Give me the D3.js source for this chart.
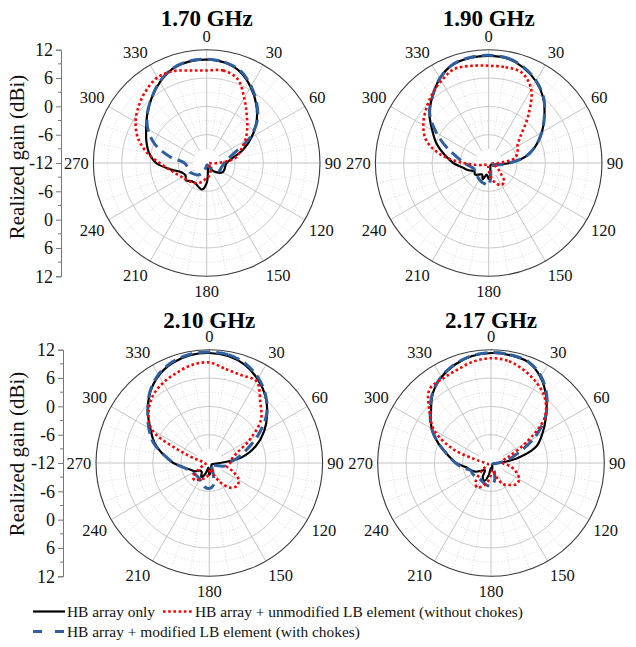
<!DOCTYPE html>
<html><head><meta charset="utf-8">
<script src="https://cdn.jsdelivr.net/npm/d3@7"></script>
<style>
body{margin:0;background:#fff}
svg{display:block}
svg text{font-family:"Liberation Serif","Tinos","Times New Roman","DejaVu Serif",serif !important;fill:#111}
</style>
</head><body>
<svg id="chart" width="636" height="647"></svg>
<script>
// ---------- data ----------
const angles = [0,10,20,30,40,50,60,70,80,90,100,110,120,130,140,150,160,170,180,190,200,210,220,230,240,250,260,270,280,290,300,310,320,330,340,350];
const frequencies = ["1.70 GHz","1.90 GHz","2.10 GHz","2.17 GHz"];
const seriesNames = ["HB array only","HB array + unmodified LB element (without chokes)","HB array + modified LB element (with chokes)"];
const angleTickLabels = [0,30,60,90,120,150,180,210,240,270,300,330];
const radialTickLabels = [12,6,0,-6,-12,-6,0,6,12];
const radialAxisTitle = "Realized gain (dBi)";

// 1.70 GHz
const hbOnly170 = [9.9,9.6,8.6,6.6,4.3,1.8,-1.0,-3.8,-6.6,-7.8,-8.0,-8.0,-8.1,-8.8,-9.7,-10.8,-11.4,-10.5,-7.8,-6.3,-6.7,-7.1,-7.0,-6.3,-6.8,-6.3,-4.2,-1.3,0.4,1.6,2.8,4.4,6.1,7.8,9.2,9.8];
const unmodLB170 = [7.6,7.9,7.0,3.9,1.2,-0.8,-2.6,-4.4,-5.8,-9.5,-11.5,-11.6,-11.6,-11.4,-11.0,-10.4,-9.8,-9.2,-8.8,-8.2,-7.5,-7.1,-6.8,-6.4,-6.0,-5.2,-4.0,-2.0,0.9,3.5,5.4,6.8,8.0,8.9,8.7,7.9];
const modLB170 = [10.0,9.7,8.8,6.8,4.5,2.0,-1.5,-5.8,-7.5,-8.3,-8.6,-8.8,-8.8,-9.5,-10.5,-11.2,-11.5,-11.6,-11.5,-11.0,-10.0,-9.2,-8.7,-8.4,-8.0,-7.9,-7.8,-7.3,-4.0,-0.3,2.4,4.4,6.1,7.9,9.3,9.9];
// 1.90 GHz
const hbOnly190 = [10.7,10.5,9.5,8.0,6.0,3.4,1.0,-1.4,-4.0,-7.6,-10.3,-11.0,-11.3,-11.4,-11.4,-11.3,-11.0,-10.0,-8.6,-9.5,-8.3,-9.2,-8.8,-8.2,-8.5,-7.5,-6.4,-4.5,-2.6,-0.3,1.8,4.4,6.5,8.7,10.2,10.6];
const unmodLB190 = [8.6,8.6,8.4,6.0,1.0,-3.2,-5.0,-5.5,-6.5,-10.0,-11.3,-10.8,-9.8,-8.8,-6.9,-6.6,-7.4,-8.8,-10.5,-11.4,-11.6,-11.6,-11.6,-11.5,-11.3,-10.8,-9.5,-6.6,-1.6,2.1,4.0,5.4,6.8,8.1,9.2,8.9];
const modLB190 = [10.8,10.6,9.6,8.1,6.1,3.4,1.0,-1.4,-4.0,-7.6,-9.8,-10.5,-11.0,-11.2,-11.3,-11.2,-10.8,-9.5,-7.3,-7.5,-7.7,-8.0,-8.3,-8.6,-8.7,-8.6,-8.0,-6.8,-5.3,-2.6,0.8,4.3,6.5,8.7,10.2,10.7];
// 2.10 GHz
const hbOnly210 = [11.3,11.0,10.1,8.5,6.5,4.0,1.4,-1.5,-5.0,-9.7,-11.0,-11.3,-11.4,-11.4,-11.3,-11.2,-10.8,-10.2,-9.5,-11.0,-9.5,-8.6,-9.5,-9.5,-8.5,-7.8,-6.5,-4.4,-2.2,0.3,2.4,5.0,7.5,9.4,10.6,11.2];
const unmodLB210 = [9.3,8.2,7.8,8.0,4.8,2.3,-2.1,-5.8,-7.2,-7.6,-8.2,-6.6,-4.8,-4.4,-5.2,-7.2,-9.5,-10.8,-10.0,-9.0,-8.5,-8.0,-7.2,-7.5,-9.5,-10.8,-11.2,-11.0,-10.5,-7.0,2.0,4.8,6.6,7.6,8.3,9.1];
const modLB210 = [11.5,11.3,10.4,8.8,6.6,3.8,0.0,-3.5,-6.0,-7.8,-8.5,-10.5,-11.5,-11.6,-11.5,-11.0,-9.5,-7.2,-6.6,-6.8,-7.5,-8.0,-8.2,-8.2,-8.0,-7.5,-6.5,-4.5,-2.3,0.6,2.8,5.0,7.6,9.6,10.8,11.4];
// 2.17 GHz
const hbOnly217 = [11.3,11.2,10.8,9.0,6.2,3.2,0.6,-1.8,-6.5,-10.5,-11.4,-11.5,-11.6,-11.6,-11.6,-11.5,-11.2,-10.5,-11.0,-9.5,-8.0,-8.5,-10.0,-9.5,-8.3,-7.5,-6.7,-4.6,-2.8,-0.2,2.5,4.6,7.2,9.0,10.2,11.0];
const unmodLB217 = [10.2,9.9,8.8,7.5,5.8,2.8,-3.5,-7.9,-9.5,-9.5,-7.8,-6.3,-5.1,-5.0,-5.9,-6.8,-9.0,-10.5,-9.5,-8.0,-6.8,-6.0,-7.0,-9.5,-11.0,-11.3,-11.2,-10.8,-9.5,-3.5,1.9,5.0,8.3,8.6,9.0,9.8];
const modLB217 = [11.4,11.3,10.9,9.2,6.4,3.0,-1.5,-6.0,-8.5,-10.5,-11.2,-11.5,-11.6,-11.6,-11.5,-11.0,-9.8,-8.0,-7.2,-7.2,-7.5,-7.8,-7.8,-7.6,-7.5,-7.4,-6.0,-4.5,-2.8,-0.3,2.5,4.8,7.3,9.1,10.3,11.1];

// ---------- layout / style ----------
const FONT = '"Liberation Serif","Tinos","Times New Roman","DejaVu Serif",serif';
const panelData = [
  {title: frequencies[0], series: [hbOnly170, modLB170, unmodLB170]},
  {title: frequencies[1], series: [hbOnly190, modLB190, unmodLB190]},
  {title: frequencies[2], series: [hbOnly210, modLB210, unmodLB210]},
  {title: frequencies[3], series: [hbOnly217, modLB217, unmodLB217]}
];
const panelLayout = [
  {cx: 206.7, cy: 163, titleY: 26, axisX: 61, labelY: 157},
  {cx: 488.7, cy: 163, titleY: 26, axisX: null},
  {cx: 209.3, cy: 463, titleY: 328, axisX: 63, labelY: 454},
  {cx: 491,   cy: 463, titleY: 328, axisX: null}
];
// drawing order: black, blue dashed, red dotted
const seriesStyle = [
  {stroke: "#000000", width: 2.2, dash: null},
  {stroke: "#2f5f9e", width: 3, dash: "12,6"},
  {stroke: "#ff0000", width: 2.6, dash: "2.6,2.6"}
];
const R = 113.3;
const gMin = -12, gMax = 12;
const rScale = d3.scaleLinear().domain([gMin, gMax]).range([0, R]);
const toRad = d => d * Math.PI / 180;
const labelRx = 118, labelRy = 123;

const svg = d3.select("#chart").attr("font-family", FONT);

panelData.forEach((p, i) => {
  const L = panelLayout[i];
  const g = svg.append("g").attr("transform", `translate(${L.cx},${L.cy})`);

  g.selectAll("circle.minor").data([-9,-3,3,9]).join("circle")
    .attr("r", d => rScale(d)).attr("fill", "none")
    .attr("stroke", "#cfcfcf").attr("stroke-width", 0.8).attr("stroke-dasharray", "1,2");
  g.selectAll("circle.major").data([-6,0,6]).join("circle")
    .attr("r", d => rScale(d)).attr("fill", "none")
    .attr("stroke", "#c4c4c4").attr("stroke-width", 0.9);
  const minorSpokes = d3.range(0, 360, 10).filter(a => a % 30 !== 0);
  g.selectAll("line.minor").data(minorSpokes).join("line")
    .attr("x1", a => rScale(-6) * Math.sin(toRad(a))).attr("y1", a => -rScale(-6) * Math.cos(toRad(a)))
    .attr("x2", a => R * Math.sin(toRad(a))).attr("y2", a => -R * Math.cos(toRad(a)))
    .attr("stroke", "#d2d2d2").attr("stroke-width", 0.8).attr("stroke-dasharray", "1,2");
  g.selectAll("line.major").data(angleTickLabels).join("line")
    .attr("x1", a => rScale(-9) * Math.sin(toRad(a))).attr("y1", a => -rScale(-9) * Math.cos(toRad(a)))
    .attr("x2", a => R * Math.sin(toRad(a))).attr("y2", a => -R * Math.cos(toRad(a)))
    .attr("stroke", "#bdbdbd").attr("stroke-width", 0.9);
  g.append("circle").attr("r", R).attr("fill", "none").attr("stroke", "#3a3a3a").attr("stroke-width", 1.1);

  g.selectAll("text.ang").data(angleTickLabels).join("text")
    .attr("x", a => labelRx * Math.sin(toRad(a)))
    .attr("y", a => -labelRy * Math.cos(toRad(a)))
    .attr("text-anchor", a => { const s = Math.sin(toRad(a)); return Math.abs(s) < 0.1 ? "middle" : (s > 0 ? "start" : "end"); })
    .attr("dy", a => { const c = Math.cos(toRad(a)); return c > 0.1 ? "0.1em" : (c < -0.1 ? "0.68em" : "0.34em"); })
    .attr("font-size", 16.5)
    .text(a => a);

  const line = d3.lineRadial()
    .angle(d => toRad(d[0]))
    .radius(d => rScale(Math.max(gMin, d[1])))
    .curve(d3.curveCatmullRomClosed.alpha(0.5));
  p.series.forEach((vals, k) => {
    const st = seriesStyle[k];
    const pts = angles.map((a, j) => [a, vals[j]]);
    g.append("path").attr("d", line(pts))
      .attr("fill", "none").attr("stroke", st.stroke).attr("stroke-width", st.width)
      .attr("stroke-dasharray", st.dash).attr("stroke-linejoin", "round");
  });

  svg.append("text").attr("x", L.cx).attr("y", L.titleY).attr("text-anchor", "middle")
    .attr("font-size", 23).attr("font-weight", "bold").style("fill", "#000").text(p.title);

  if (L.axisX !== null) {
    const posScale = d3.scaleLinear().domain([0, 48]).range([L.cy - R, L.cy + R]);
    const axis = d3.axisLeft(posScale).tickValues(d3.range(0, 49, 6)).tickSize(5).tickPadding(3)
      .tickFormat((d, j) => radialTickLabels[j]);
    const ax = svg.append("g").attr("transform", `translate(${L.axisX},0)`).call(axis)
      .attr("font-family", FONT).attr("font-size", 18);
    ax.select(".domain").attr("stroke", "#777").attr("stroke-width", 1);
    ax.selectAll(".tick line").attr("stroke", "#777");
    ax.selectAll(".tick text").style("fill", "#111");
    ax.selectAll("line.minorTick").data(d3.range(3, 48, 6)).join("line")
      .attr("x1", 0).attr("x2", -3).attr("y1", d => posScale(d)).attr("y2", d => posScale(d))
      .attr("stroke", "#777");
    svg.append("text")
      .attr("transform", `translate(24,${L.labelY}) rotate(-90)`)
      .attr("text-anchor", "middle").attr("font-size", 21).style("fill", "#111")
      .text(radialAxisTitle);
  }
});

// ---------- legend ----------
const legendItems = [
  {name: seriesNames[0], style: seriesStyle[0], x: 33, y: 611.5, w: 32},
  {name: seriesNames[1], style: seriesStyle[2], x: 163, y: 611.5, w: 30},
  {name: seriesNames[2], style: Object.assign({}, seriesStyle[1], {dash: "9,13"}), x: 33, y: 631.5, w: 32}
];
const lg = svg.append("g");
legendItems.forEach(it => {
  lg.append("line").attr("x1", it.x).attr("x2", it.x + it.w).attr("y1", it.y).attr("y2", it.y)
    .attr("stroke", it.style.stroke).attr("stroke-width", it.style.width)
    .attr("stroke-dasharray", it.style.dash);
  lg.append("text").attr("x", it.x + it.w + 2).attr("y", it.y).attr("dy", "0.34em")
    .attr("font-size", 15.4).style("fill", "#111").text(it.name);
});
</script>
</body></html>
